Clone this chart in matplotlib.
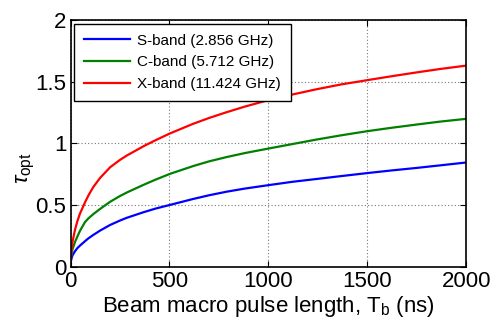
import matplotlib
matplotlib.use("Agg")
import matplotlib.pyplot as plt

plt.rcParams['font.family'] = ['Liberation Sans', 'DejaVu Sans']
plt.rcParams['mathtext.fontset'] = 'custom'
plt.rcParams['mathtext.rm'] = 'Liberation Sans'
plt.rcParams['mathtext.it'] = 'Liberation Sans:italic'

# Data
pulse_length_ns = [0, 5, 10, 23, 35, 48, 73, 90, 115, 150, 200, 250, 284, 368, 430, 503,
                   620, 700, 789, 880, 1000, 1120, 1243, 1370, 1500, 1620, 1750, 1870, 2000]
s_band = [0.03, 0.065, 0.09, 0.125, 0.15, 0.17, 0.205, 0.228, 0.256, 0.292, 0.337, 0.373, 0.395,
          0.44, 0.47, 0.50, 0.548, 0.578, 0.607, 0.632, 0.66, 0.687, 0.71, 0.734, 0.758,
          0.779, 0.80, 0.821, 0.844]
c_band = [0.04, 0.10, 0.14, 0.20, 0.245, 0.29, 0.36, 0.39, 0.425, 0.468, 0.525, 0.572, 0.60,
          0.662, 0.705, 0.752, 0.815, 0.853, 0.888, 0.92, 0.957, 0.993, 1.03, 1.065, 1.098,
          1.125, 1.152, 1.176, 1.198]
x_band = [0.05, 0.14, 0.20, 0.30, 0.37, 0.43, 0.52, 0.575, 0.645, 0.72, 0.805, 0.865, 0.90,
          0.975, 1.025, 1.08, 1.158, 1.205, 1.252, 1.297, 1.35, 1.395, 1.438, 1.478, 1.512,
          1.543, 1.575, 1.603, 1.63]
series_labels = ['S-band (2.856 GHz)', 'C-band (5.712 GHz)', 'X-band (11.424 GHz)']
series_colors = ['#0000ff', '#008000', '#ff0000']
x_ticks = [0, 500, 1000, 1500, 2000]
y_ticks = [0, 0.5, 1, 1.5, 2]
y_tick_labels = ['0', '0.5', '1', '1.5', '2']

fig = plt.figure(figsize=(4.97, 3.23), dpi=100)
ax = fig.add_axes([0.1419, 0.1749, 0.7963, 0.7632])

for ys, lab, col in zip([s_band, c_band, x_band], series_labels, series_colors):
    ax.plot(pulse_length_ns, ys, color=col, lw=1.6, label=lab)

ax.set_xlim(0, 2000)
ax.set_ylim(0, 2)
ax.set_xticks(x_ticks)
ax.set_xticklabels([str(t) for t in x_ticks])
ax.set_yticks(y_ticks)
ax.set_yticklabels(y_tick_labels)
ax.tick_params(direction='in', length=4, width=0.8, labelsize=16, pad=3,
               top=True, right=True)
ax.grid(True, color='#777777', linestyle=(0, (1, 2)), linewidth=0.8)
for sp in ax.spines.values():
    sp.set_linewidth(1.2)

ax.set_xlabel(r'Beam macro pulse length, T$_{\rm b}$ (ns)', fontsize=16, labelpad=2)
ax.set_ylabel(r'$\tau_{\rm opt}$', fontsize=16)
ax.yaxis.set_label_coords(-0.085, 0.40)

leg = ax.legend(loc='upper left', fontsize=11, frameon=True, fancybox=False,
                edgecolor='black', framealpha=1, borderaxespad=0.25,
                handlelength=3.0, handletextpad=0.45, labelspacing=0.5,
                borderpad=0.65)
leg.get_frame().set_linewidth(1.0)

fig.savefig('out.png', dpi=100)
